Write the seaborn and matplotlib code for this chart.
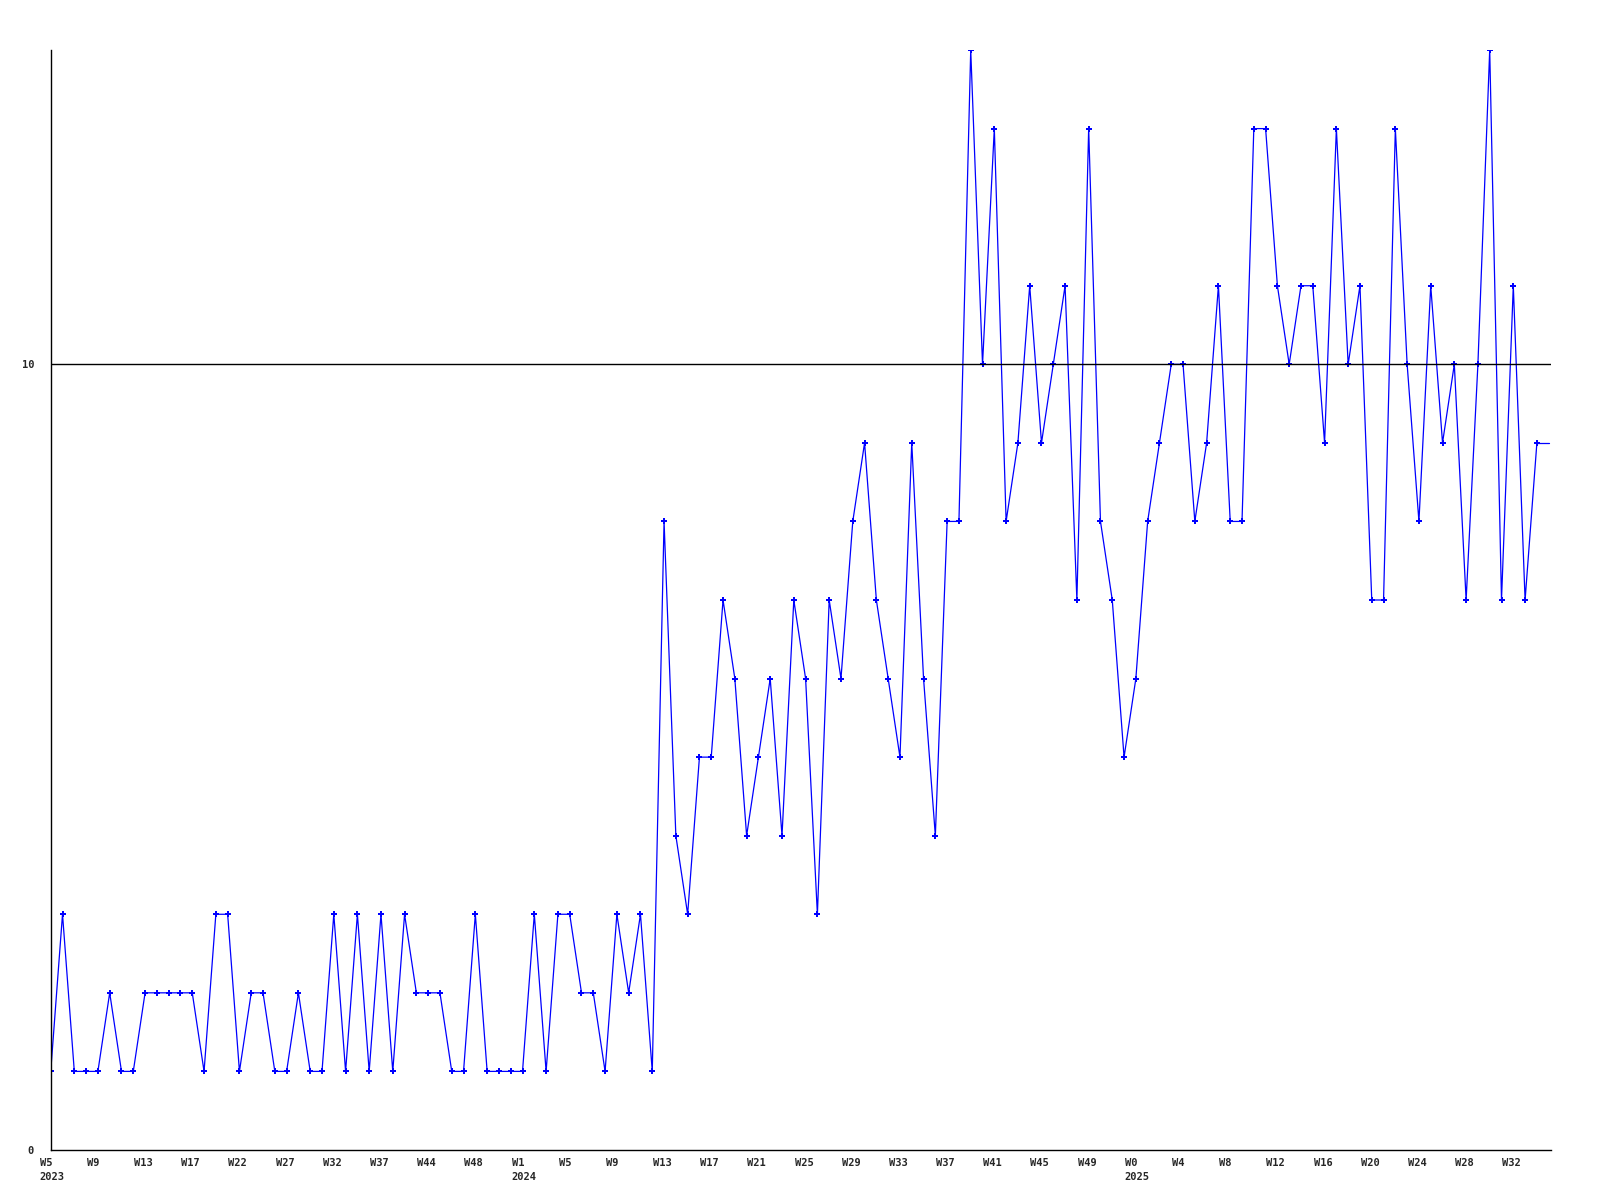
import numpy as np
import matplotlib
matplotlib.use("Agg")
import matplotlib.pyplot as plt
import matplotlib.transforms as mtransforms
import pandas as pd
import seaborn as sns

# weekly counts, one value per week
counts = [1, 3, 1, 1, 1, 2, 1, 1, 2, 2, 2, 2, 2, 1, 3, 3, 1, 2, 2, 1,
          1, 2, 1, 1, 3, 1, 3, 1, 3, 1, 3, 2, 2, 2, 1, 1, 3, 1, 1, 1,
          1, 3, 1, 3, 3, 2, 2, 1, 3, 2, 3, 1, 8, 4, 3, 5, 5, 7, 6, 4,
          5, 6, 4, 7, 6, 3, 7, 6, 8, 9, 7, 6, 5, 9, 6, 4, 8, 8, 14, 10,
          13, 8, 9, 11, 9, 10, 11, 7, 13, 8, 7, 5, 6, 8, 9, 10, 10, 8, 9, 11,
          8, 8, 13, 13, 11, 10, 11, 11, 9, 13, 10, 11, 7, 7, 13, 10, 8, 11, 9, 10,
          7, 10, 14, 7, 11, 7, 9]

week_labels = ["W5\n2023", "W9", "W13", "W17", "W22", "W27", "W32", "W37",
               "W44", "W48", "W1\n2024", "W5", "W9", "W13", "W17", "W21",
               "W25", "W29", "W33", "W37", "W41", "W45", "W49", "W0\n2025",
               "W4", "W8", "W12", "W16", "W20", "W24", "W28", "W32"]
label_step = 4
ref_level = 10

df = pd.DataFrame({"week": np.arange(len(counts)), "count": counts})

sns.set_style("white")
plt.rcParams['font.family'] = ['DejaVu Sans Mono', 'DejaVu Sans']

fig = plt.figure(figsize=(16, 12), dpi=100)
ax = fig.add_axes([0.0317, 0.0417, 0.9377, 0.9166])

# line continues flat to the right edge after the last marker
ax.plot([df["week"].iloc[-1], df["week"].iloc[-1] + 1], [counts[-1], counts[-1]],
        color="#0000ff", lw=0.9)
sns.lineplot(data=df, x="week", y="count", ax=ax, color="#0000ff", lw=0.9,
             marker="P", markersize=5, markeredgewidth=0)

ax.axhline(ref_level, color="black", lw=1.0)

ax.set_xlim(0, len(counts) + 0.2)
ax.set_ylim(0, 14)
ax.set_xlabel("")
ax.set_ylabel("")

# week labels, left-aligned slightly before their point
ax.set_xticks([])
trans = ax.get_xaxis_transform() + mtransforms.ScaledTranslation(
    -11 / 100, -8 / 100, fig.dpi_scale_trans)
for k, lab in enumerate(week_labels):
    ax.text(k * label_step, 0, lab, transform=trans, ha="left", va="top",
            fontsize=7.5, fontweight="bold", linespacing=1.45)

ax.set_yticks([0, ref_level])
ax.set_yticklabels(["0", "10"], fontsize=7.5, fontweight="bold")
ax.tick_params(axis="y", length=0, pad=12)

sns.despine(ax=ax, top=True, right=True)
for s in ["left", "bottom"]:
    ax.spines[s].set_color("black")
    ax.spines[s].set_linewidth(1.0)

fig.savefig("out.png", dpi=100)
